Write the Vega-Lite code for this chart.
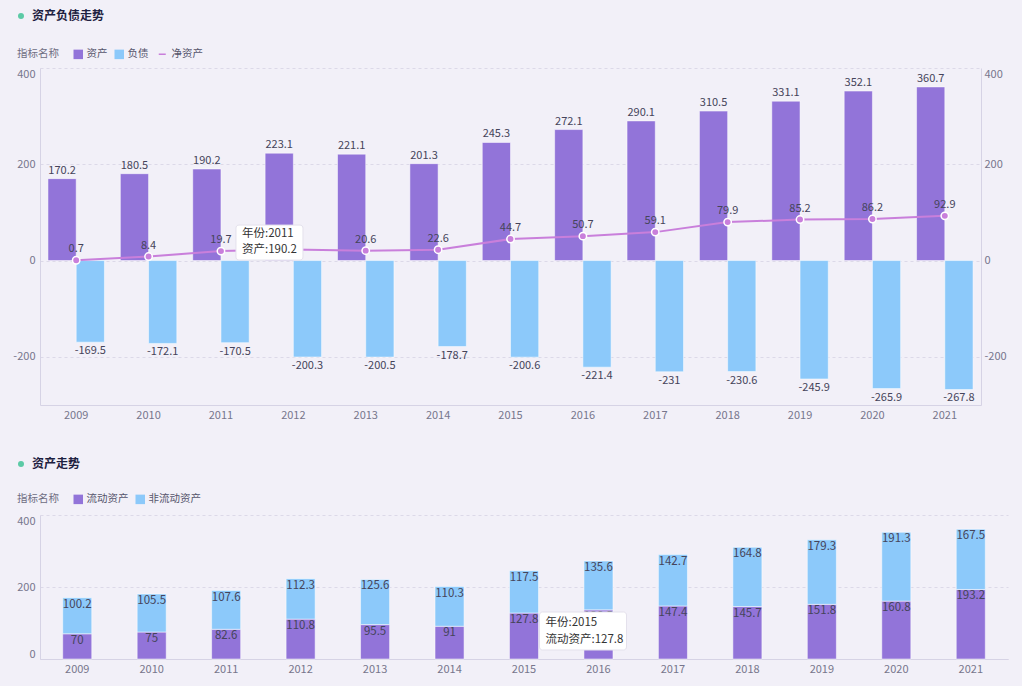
{
  "$schema": "https://vega.github.io/schema/vega-lite/v6.json",
  "padding": {"left": 12, "top": 10, "right": 14, "bottom": 12},
  "spacing": 38,
  "columns": 1,
  "align": "none",
  "datasets": {
    "bs": [
      {"year": "2009", "type": "资产", "value": 170.2}, {"year": "2009", "type": "负债", "value": -169.5},
      {"year": "2010", "type": "资产", "value": 180.5}, {"year": "2010", "type": "负债", "value": -172.1},
      {"year": "2011", "type": "资产", "value": 190.2}, {"year": "2011", "type": "负债", "value": -170.5},
      {"year": "2012", "type": "资产", "value": 223.1}, {"year": "2012", "type": "负债", "value": -200.3},
      {"year": "2013", "type": "资产", "value": 221.1}, {"year": "2013", "type": "负债", "value": -200.5},
      {"year": "2014", "type": "资产", "value": 201.3}, {"year": "2014", "type": "负债", "value": -178.7},
      {"year": "2015", "type": "资产", "value": 245.3}, {"year": "2015", "type": "负债", "value": -200.6},
      {"year": "2016", "type": "资产", "value": 272.1}, {"year": "2016", "type": "负债", "value": -221.4},
      {"year": "2017", "type": "资产", "value": 290.1}, {"year": "2017", "type": "负债", "value": -231},
      {"year": "2018", "type": "资产", "value": 310.5}, {"year": "2018", "type": "负债", "value": -230.6},
      {"year": "2019", "type": "资产", "value": 331.1}, {"year": "2019", "type": "负债", "value": -245.9},
      {"year": "2020", "type": "资产", "value": 352.1}, {"year": "2020", "type": "负债", "value": -265.9},
      {"year": "2021", "type": "资产", "value": 360.7}, {"year": "2021", "type": "负债", "value": -267.8}
    ],
    "net": [
      {"year": "2009", "net": 0.7}, {"year": "2010", "net": 8.4}, {"year": "2011", "net": 19.7},
      {"year": "2012", "net": 22.8}, {"year": "2013", "net": 20.6}, {"year": "2014", "net": 22.6},
      {"year": "2015", "net": 44.7}, {"year": "2016", "net": 50.7}, {"year": "2017", "net": 59.1},
      {"year": "2018", "net": 79.9}, {"year": "2019", "net": 85.2}, {"year": "2020", "net": 86.2},
      {"year": "2021", "net": 92.9}
    ],
    "cur": [
      {"year": "2009", "type": "流动资产", "value": 70}, {"year": "2009", "type": "非流动资产", "value": 100.2},
      {"year": "2010", "type": "流动资产", "value": 75}, {"year": "2010", "type": "非流动资产", "value": 105.5},
      {"year": "2011", "type": "流动资产", "value": 82.6}, {"year": "2011", "type": "非流动资产", "value": 107.6},
      {"year": "2012", "type": "流动资产", "value": 110.8}, {"year": "2012", "type": "非流动资产", "value": 112.3},
      {"year": "2013", "type": "流动资产", "value": 95.5}, {"year": "2013", "type": "非流动资产", "value": 125.6},
      {"year": "2014", "type": "流动资产", "value": 91}, {"year": "2014", "type": "非流动资产", "value": 110.3},
      {"year": "2015", "type": "流动资产", "value": 127.8}, {"year": "2015", "type": "非流动资产", "value": 117.5},
      {"year": "2016", "type": "流动资产", "value": 136.5}, {"year": "2016", "type": "非流动资产", "value": 135.6},
      {"year": "2017", "type": "流动资产", "value": 147.4}, {"year": "2017", "type": "非流动资产", "value": 142.7},
      {"year": "2018", "type": "流动资产", "value": 145.7}, {"year": "2018", "type": "非流动资产", "value": 164.8},
      {"year": "2019", "type": "流动资产", "value": 151.8}, {"year": "2019", "type": "非流动资产", "value": 179.3},
      {"year": "2020", "type": "流动资产", "value": 160.8}, {"year": "2020", "type": "非流动资产", "value": 191.3},
      {"year": "2021", "type": "流动资产", "value": 193.2}, {"year": "2021", "type": "非流动资产", "value": 167.5}
    ],
    "tip1": [{"year": "2011", "l1": "年份:2011", "l2": "资产:190.2"}],
    "tip2": [{"year": "2015", "l1": "年份:2015", "l2": "流动资产:127.8"}],
    "card1": [{"card": "资产负债走势"}],
    "card2": [{"card": "资产走势"}]
  },
  "concat": [
    {
      "width": 941,
      "height": 337,
      "layer": [
        {
          "layer": [
            {
              "data": {"name": "bs"},
              "mark": {"type": "bar", "stroke": "#ffffff", "strokeOpacity": 0.5, "strokeWidth": 1},
              "encoding": {
                "x": {"field": "year", "type": "ordinal", "title": null,
                  "scale": {"paddingInner": 0.22, "paddingOuter": 0.11},
                  "axis": {"labelAngle": 0, "labelPadding": 4, "domain": true, "grid": false}},
                "xOffset": {"field": "type", "type": "nominal", "sort": ["资产", "负债"]},
                "y": {"field": "value", "type": "quantitative", "title": null,
                  "scale": {"domain": [-300, 400], "nice": false},
                  "axis": {"values": [-200, 0, 200, 400], "grid": true, "domain": true, "labelPadding": 5, "labelFlush": true}},
                "color": {"field": "type", "type": "nominal",
                  "scale": {"domain": ["资产", "负债"], "range": ["#9274d9", "#8cc9fa"]},
                  "legend": {"orient": "none", "legendX": -23, "legendY": -19, "direction": "horizontal",
                    "title": "指标名称", "titleOrient": "left", "titlePadding": 14,
                    "symbolType": "square", "symbolSize": 90, "symbolStrokeWidth": 0, "labelOffset": 3, "columnPadding": 6}}
              }
            },
            {
              "data": {"name": "bs"},
              "transform": [{"filter": "datum.value > 0"}],
              "mark": {"type": "text", "baseline": "alphabetic", "dy": -5},
              "encoding": {
                "x": {"field": "year", "type": "ordinal"},
                "xOffset": {"field": "type", "type": "nominal", "sort": ["资产", "负债"]},
                "y": {"field": "value", "type": "quantitative"},
                "text": {"field": "value", "type": "quantitative"}
              }
            },
            {
              "data": {"name": "bs"},
              "transform": [{"filter": "datum.value < 0"}],
              "mark": {"type": "text", "baseline": "top", "dy": 3},
              "encoding": {
                "x": {"field": "year", "type": "ordinal"},
                "xOffset": {"field": "type", "type": "nominal", "sort": ["资产", "负债"]},
                "y": {"field": "value", "type": "quantitative"},
                "text": {"field": "value", "type": "quantitative"}
              }
            }
          ]
        },
        {
          "layer": [
            {
              "data": {"name": "net"},
              "mark": {"type": "line", "strokeWidth": 2},
              "encoding": {
                "x": {"field": "year", "type": "ordinal"},
                "y": {"field": "net", "type": "quantitative", "title": null,
                  "scale": {"domain": [-300, 400], "nice": false},
                  "axis": {"orient": "right", "values": [-200, 0, 200, 400], "grid": false, "domain": true, "labelPadding": 3, "labelFlush": true}},
                "stroke": {"datum": "净资产", "type": "nominal",
                  "scale": {"domain": ["净资产"], "range": ["#c97fdb"]},
                  "legend": {"orient": "none", "legendX": 117, "legendY": -19, "title": null,
                    "symbolType": "stroke", "symbolSize": 49, "symbolStrokeWidth": 1.5, "labelOffset": 4}}
              }
            },
            {
              "data": {"name": "net"},
              "mark": {"type": "point", "filled": true, "size": 55, "fill": "#c97fdb", "stroke": "#ffffff", "strokeWidth": 1.5, "opacity": 1},
              "encoding": {
                "x": {"field": "year", "type": "ordinal"},
                "y": {"field": "net", "type": "quantitative"}
              }
            },
            {
              "data": {"name": "net"},
              "transform": [{"filter": "datum.year !== '2012'"}],
              "mark": {"type": "text", "baseline": "alphabetic", "dy": -8},
              "encoding": {
                "x": {"field": "year", "type": "ordinal"},
                "y": {"field": "net", "type": "quantitative"},
                "text": {"field": "net", "type": "quantitative"}
              }
            },
            {
              "data": {"name": "tip1"},
              "mark": {"type": "rect", "width": 67, "height": 35, "xOffset": 48.5, "yOffset": -18, "fill": "#ffffff", "stroke": "#e4e1ec", "strokeWidth": 1, "cornerRadius": 3},
              "encoding": {
                "x": {"field": "year", "type": "ordinal"},
                "y": {"datum": 0, "type": "quantitative"}
              }
            },
            {
              "data": {"name": "tip1"},
              "mark": {"type": "text", "align": "left", "baseline": "middle", "dx": 21, "dy": -27, "fontSize": 11.5, "fill": "#333333"},
              "encoding": {
                "x": {"field": "year", "type": "ordinal"},
                "y": {"datum": 0, "type": "quantitative"},
                "text": {"field": "l1"}
              }
            },
            {
              "data": {"name": "tip1"},
              "mark": {"type": "text", "align": "left", "baseline": "middle", "dx": 21, "dy": -11, "fontSize": 11.5, "fill": "#333333"},
              "encoding": {
                "x": {"field": "year", "type": "ordinal"},
                "y": {"datum": 0, "type": "quantitative"},
                "text": {"field": "l2"}
              }
            }
          ]
        },
        {
          "data": {"name": "card1"},
          "mark": {"type": "point", "filled": true, "color": "#5ccaa6", "opacity": 0},
          "encoding": {
            "shape": {"field": "card", "type": "nominal", "scale": {"range": ["circle"]},
              "legend": {"orient": "none", "legendX": -25, "legendY": -58, "title": null,
                "symbolFillColor": "#5ccaa6", "symbolStrokeColor": "#c4ecdd", "symbolStrokeWidth": 2, "symbolOpacity": 1, "symbolSize": 36,
                "labelFontSize": 12, "labelFontWeight": "bold", "labelColor": "#1d2040", "labelOffset": 5}}
          }
        }
      ],
      "resolve": {"scale": {"y": "independent"}}
    },
    {
      "width": 968,
      "height": 144,
      "layer": [
        {
          "data": {"name": "cur"},
          "transform": [{"stack": "value", "groupby": ["year"], "sort": [{"field": "type", "order": "ascending"}], "as": ["v0", "v1"]}],
          "mark": {"type": "bar", "stroke": "#ffffff", "strokeOpacity": 0.5, "strokeWidth": 1},
          "encoding": {
            "x": {"field": "year", "type": "ordinal", "title": null,
              "scale": {"paddingInner": 0.61, "paddingOuter": 0.305},
              "axis": {"labelAngle": 0, "labelPadding": 4, "domain": true, "grid": false}},
            "y": {"field": "v1", "type": "quantitative", "title": null,
              "scale": {"domain": [0, 400], "nice": false},
              "axis": {"values": [0, 200, 400], "grid": true, "domain": true, "labelPadding": 5, "labelFlush": true}},
            "y2": {"field": "v0"},
            "color": {"field": "type", "type": "nominal",
              "scale": {"domain": ["流动资产", "非流动资产"], "range": ["#9274d9", "#8cc9fa"]},
              "legend": {"orient": "none", "legendX": -23, "legendY": -21, "direction": "horizontal",
                "title": "指标名称", "titleOrient": "left", "titlePadding": 14,
                "symbolType": "square", "symbolSize": 90, "symbolStrokeWidth": 0, "labelOffset": 3, "columnPadding": 6}}
          }
        },
        {
          "data": {"name": "cur"},
          "transform": [{"stack": "value", "groupby": ["year"], "sort": [{"field": "type", "order": "ascending"}], "as": ["v0", "v1"]}],
          "mark": {"type": "text", "baseline": "top", "dy": 1, "fontSize": 11.5},
          "encoding": {
            "x": {"field": "year", "type": "ordinal"},
            "y": {"field": "v1", "type": "quantitative"},
            "text": {"field": "value", "type": "quantitative"}
          }
        },
        {
          "data": {"name": "tip2"},
          "mark": {"type": "rect", "width": 87, "height": 38, "xOffset": 59, "yOffset": -28, "fill": "#ffffff", "stroke": "#e4e1ec", "strokeWidth": 1, "cornerRadius": 3},
          "encoding": {
            "x": {"field": "year", "type": "ordinal"},
            "y": {"datum": 0, "type": "quantitative"}
          }
        },
        {
          "data": {"name": "tip2"},
          "mark": {"type": "text", "align": "left", "baseline": "middle", "dx": 21.5, "dy": -36, "fontSize": 11.5, "fill": "#333333"},
          "encoding": {
            "x": {"field": "year", "type": "ordinal"},
            "y": {"datum": 0, "type": "quantitative"},
            "text": {"field": "l1"}
          }
        },
        {
          "data": {"name": "tip2"},
          "mark": {"type": "text", "align": "left", "baseline": "middle", "dx": 21.5, "dy": -19, "fontSize": 11.5, "fill": "#333333"},
          "encoding": {
            "x": {"field": "year", "type": "ordinal"},
            "y": {"datum": 0, "type": "quantitative"},
            "text": {"field": "l2"}
          }
        },
        {
          "data": {"name": "card2"},
          "mark": {"type": "point", "filled": true, "color": "#5ccaa6", "opacity": 0},
          "encoding": {
            "shape": {"field": "card", "type": "nominal", "scale": {"range": ["circle"]},
              "legend": {"orient": "none", "legendX": -25, "legendY": -57, "title": null,
                "symbolFillColor": "#5ccaa6", "symbolStrokeColor": "#c4ecdd", "symbolStrokeWidth": 2, "symbolOpacity": 1, "symbolSize": 36,
                "labelFontSize": 12, "labelFontWeight": "bold", "labelColor": "#1d2040", "labelOffset": 5}}
          }
        }
      ]
    }
  ],
  "resolve": {
    "scale": {"color": "independent", "stroke": "independent", "x": "independent", "y": "independent", "shape": "independent"},
    "legend": {"color": "independent", "stroke": "independent", "shape": "independent"}
  },
  "config": {
    "background": "#f2f0f8",
    "font": "Noto Sans CJK SC",
    "locale": {"number": {"decimal": ".", "thousands": ",", "grouping": [3], "currency": ["$", ""], "minus": "-"}},
    "view": {"stroke": null},
    "axis": {"labelFont": "Noto Sans CJK SC", "labelFontSize": 11, "labelColor": "#77768c", "ticks": false,
      "domainColor": "#d6d3e5", "gridColor": "#dcd9e8", "gridDash": [3, 3], "title": null},
    "legend": {"labelFont": "Noto Sans CJK SC", "titleFont": "Noto Sans CJK SC", "labelFontSize": 10.5, "titleFontSize": 10.5,
      "titleFontWeight": "normal", "titleColor": "#6e6d82", "labelColor": "#56556c"},
    "text": {"font": "Noto Sans CJK SC", "fontSize": 11, "fill": "#45445a"}
  }
}
